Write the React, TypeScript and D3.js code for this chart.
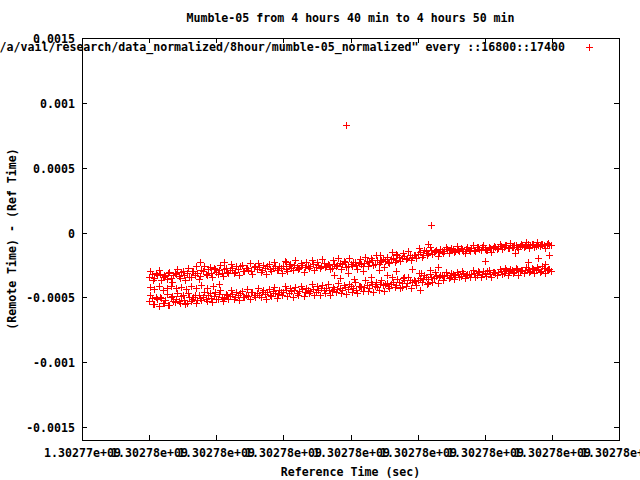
import React from "react";
import * as d3 from "d3";

// ---- data ----
const T0 = 1302775000; // start time of the sampled window (sec)
const X_TICKS = [1302774900, 1302775000, 1302775100, 1302775200, 1302775300, 1302775400, 1302775500, 1302775600, 1302775700];
const X_TICK_LABELS = ["1.30277e+09", "1.30278e+09", "1.30278e+09", "1.30278e+09", "1.30278e+09", "1.30278e+09", "1.30278e+09", "1.30278e+09", "1.30278e+09"];
const Y_TICKS = [0.0015, 0.001, 0.0005, 0, -0.0005, -0.001, -0.0015];
const Y_TICK_LABELS = ["0.0015", "0.001", "0.0005", "0", "-0.0005", "-0.001", "-0.0015"];

const TITLE = "Mumble-05 from 4 hours 40 min to 4 hours 50 min";
const X_LABEL = "Reference Time (sec)";
const Y_LABEL = "(Remote Time) - (Ref Time)";
const LEGEND = '"/a/vail/research/data_normalized/8hour/mumble-05_normalized" every ::16800::17400';

// band samples every 4 s from T0 (set A) and from T0+2 (set B), offsets in microseconds
const BAND_STEP = 4;
const upperBandA = [
  -340, -322, -351, -330, -318, -345, -333, -310, -348, -327,
  -320, -338, -305, -329, -315, -342, -300, -324, -311, -335,
  -298, -320, -285, -312, -270, -303, -289, -316, -279, -301,
  -292, -270, -305, -281, -262, -296, -275, -288, -300, -268,
  -284, -265, -290, -271, -255, -282, -276, -262, -289, -270,
  -262, -280, -258, -271, -247, -266, -275, -252, -268, -260,
  -255, -240, -266, -250, -262, -236, -257, -248, -270, -244,
  -252, -238, -246, -230, -258, -241, -226, -249, -235, -244,
  -238, -222, -230, -215, -241, -210, -225, -205, -218, -228,
  -208, -195, -215, -190, -200, -182, -193, -170, -185, -176,
  -165, -150, -172, -145, -158, -138, -150, -132, -147, -140,
  -142, -130, -138, -125, -146, -133, -120, -139, -128, -135,
  -122, -131, -115, -128, -112, -125, -134, -118, -121, -110,
  -118, -105, -112, -98, -120, -108, -95, -111, -102, -99,
  -104, -92, -99, -88, -107, -95, -85, -98, -91, -93,
];
const upperBandB = [
  -300, -365, -315, -290, -370, -325, -355, -305, -380, -310,
  -280, -350, -295, -365, -275, -340, -300, -262, -355, -290,
  -255, -330, -268, -345, -280, -320, -250, -335, -270, -310,
  -240, -315, -262, -330, -250, -300, -270, -235, -318, -258,
  -235, -305, -250, -320, -245, -298, -228, -290, -260, -310,
  -222, -300, -240, -290, -215, -280, -248, -305, -230, -275,
  -210, -290, -228, -275, -205, -268, -240, -285, -215, -262,
  -200, -278, -220, -265, -195, -260, -230, -280, -208, -255,
  -185, -260, -200, -250, -175, -240, -210, -268, -190, -235,
  -150, -230, -170, -220, -160, -205, -145, -215, -175, -200,
  -120, -185, -135, -175, -110, -165, -140, -180, -125, -160,
  -110, -155, -120, -150, -105, -145, -125, -160, -115, -140,
  -100, -145, -110, -138, -95, -132, -115, -148, -105, -128,
  -85, -128, -95, -120, -80, -115, -100, -130, -88, -112,
  -75, -118, -85, -110, -70, -105, -90, -120, -78, -100,
];
const lowerBandA = [
  -530, -505, -548, -515, -495, -540, -520, -558, -500, -525,
  -510, -530, -492, -518, -540, -498, -512, -485, -522, -503,
  -495, -510, -480, -502, -488, -515, -476, -498, -505, -484,
  -490, -472, -500, -481, -468, -495, -478, -486, -462, -480,
  -470, -485, -458, -476, -462, -480, -450, -468, -474, -455,
  -460, -445, -468, -452, -440, -463, -448, -435, -457, -444,
  -450, -436, -458, -441, -430, -447, -425, -440, -452, -432,
  -438, -425, -444, -418, -432, -410, -428, -440, -415, -422,
  -418, -405, -425, -398, -412, -420, -395, -408, -400, -415,
  -398, -385, -405, -378, -392, -370, -388, -365, -380, -372,
  -368, -352, -362, -345, -358, -340, -350, -335, -346, -330,
  -336, -325, -342, -318, -330, -322, -338, -315, -328, -320,
  -322, -312, -328, -305, -318, -310, -300, -322, -308, -315,
  -305, -295, -310, -288, -300, -292, -306, -285, -298, -290,
  -292, -282, -296, -278, -288, -280, -293, -275, -286, -282,
];
const lowerBandB = [
  -480, -555, -495, -570, -505, -545, -475, -560, -490, -535,
  -470, -540, -485, -550, -465, -530, -500, -545, -478, -520,
  -455, -525, -470, -535, -460, -515, -445, -530, -475, -510,
  -440, -510, -455, -520, -448, -500, -435, -515, -460, -495,
  -428, -500, -440, -510, -432, -490, -420, -505, -445, -485,
  -415, -488, -425, -495, -420, -480, -410, -492, -430, -470,
  -400, -478, -415, -485, -405, -470, -398, -480, -420, -462,
  -390, -465, -405, -472, -395, -458, -385, -470, -410, -450,
  -370, -448, -385, -455, -378, -440, -365, -450, -390, -430,
  -345, -420, -360, -428, -352, -415, -340, -425, -365, -405,
  -310, -385, -325, -395, -318, -378, -305, -390, -330, -370,
  -305, -352, -312, -358, -308, -345, -300, -350, -318, -340,
  -292, -340, -300, -345, -295, -335, -288, -342, -305, -328,
  -278, -322, -285, -330, -280, -315, -275, -325, -290, -310,
  -265, -308, -272, -315, -268, -302, -262, -312, -278, -298,
];
// [seconds after T0, microseconds]
const extraPoints: [number, number][] = [
  [2, -420], [8, -432], [14, -415], [20, -440], [26, -425], [33, -410], [40, -428], [47, -418],
  [55, -436], [62, -412], [70, -425], [78, -405], [86, -430], [95, -415], [104, -400],
  [76, -228], [112, -230], [204, -225], [226, -238], [344, -172], [368, -165], [416, -89],
  [275, -330], [285, -350], [296, -315], [305, -360], [318, -300], [330, -340], [342, -290],
  [355, -325], [368, -300], [380, -345], [392, -280], [405, -310], [418, -290], [430, -265],
  [404, -443], [415, -390], [376, -420],
  [500, -220], [530, -274], [545, -158], [565, -228], [580, -197], [590, -243], [596, -174],
  [420, 58], [293, 829],
];

// ---- layout ----
const W = 640, H = 480;
const L = 82, R = 619, T = 38, B = 440;
const FONT = "'DejaVu Sans Mono', monospace";
const FS = 11.6;

const x = d3.scaleLinear().domain([1302774900, 1302775700]).range([L, R]);
const y = d3.scaleLinear().domain([-0.0016, 0.0015]).range([B, T]);

const band = (vals: number[], start: number) =>
  vals.map((v, i) => [T0 + start + i * BAND_STEP, v * 1e-6] as [number, number]);

const points: [number, number][] = [
  ...band(upperBandA, 0),
  ...band(upperBandB, 2),
  ...band(lowerBandA, 0),
  ...band(lowerBandB, 2),
  ...extraPoints.map(([t, v]) => [T0 + t, v * 1e-6] as [number, number]),
];

function crossPath(px: number, py: number) {
  const cx = Math.round(px), cy = Math.round(py);
  return `M${cx - 3},${cy + 0.5}H${cx + 4}M${cx + 0.5},${cy - 3}V${cy + 4}`;
}

export default function App() {
  const textStyle = { fontFamily: FONT, fontSize: FS, fontWeight: "bold" as const };
  return (
    <svg width={W} height={H} style={{ position: "absolute", left: 0, top: 0, background: "#fff" }}>
      <rect x={0} y={0} width={W} height={H} fill="#fff" />
      <text x={(L + R) / 2} y={22} textAnchor="middle" {...textStyle}>{TITLE}</text>
      {/* y ticks */}
      {Y_TICKS.map((v, i) => {
        const py = Math.round(y(v)) + 0.5;
        return (
          <g key={"y" + i}>
            <path d={`M${L},${py}H${L + 5}M${R},${py}H${R - 5}`} stroke="#000" />
            <text x={75} y={py + 4} textAnchor="end" {...textStyle}>{Y_TICK_LABELS[i]}</text>
          </g>
        );
      })}
      {/* x ticks */}
      {X_TICKS.map((v, i) => {
        const px = Math.round(x(v)) + 0.5;
        return (
          <g key={"x" + i}>
            <path d={`M${px},${B}V${B - 5}M${px},${T}V${T + 5}`} stroke="#000" />
            <text x={px} y={457} textAnchor="middle" {...textStyle}>{X_TICK_LABELS[i]}</text>
          </g>
        );
      })}
      <rect x={L + 0.5} y={T + 0.5} width={R - L} height={B - T} fill="none" stroke="#000" />
      <text x={(L + R) / 2} y={476} textAnchor="middle" {...textStyle}>{X_LABEL}</text>
      <text transform={`translate(16,${(T + B) / 2}) rotate(-90)`} textAnchor="middle" {...textStyle}>{Y_LABEL}</text>
      {/* legend */}
      <text x={565} y={51} textAnchor="end" {...textStyle}>{LEGEND}</text>
      <path d={crossPath(589, 47)} stroke="#ff0000" fill="none" />
      {/* points */}
      <path
        d={points.map(([a, b]) => crossPath(x(a), y(b))).join("")}
        stroke="#ff0000"
        fill="none"
      />
    </svg>
  );
}
